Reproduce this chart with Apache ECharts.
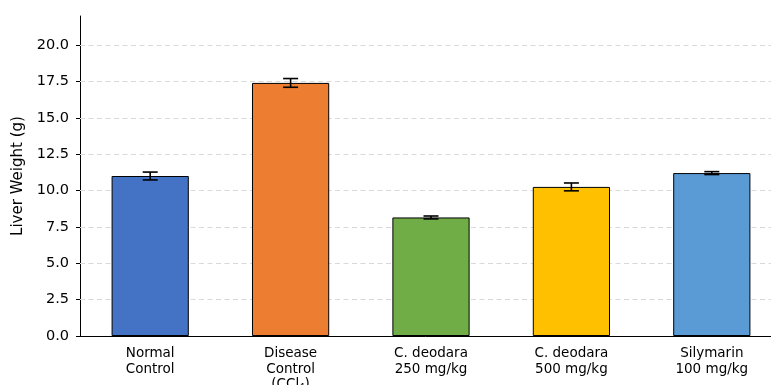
<!DOCTYPE html>
<html>
<head>
<meta charset="utf-8">
<script src="https://cdn.jsdelivr.net/npm/echarts@6/dist/echarts.min.js"></script>
<style>
  html, body { margin: 0; padding: 0; background: #fff; }
  #chart { width: 771px; height: 385px; }
</style>
</head>
<body>
<div id="chart"></div>
<script>
// Liver weight per treatment group (mean ± error)
const groups = ['Normal\nControl', 'Disease\nControl\n(CCl₄)', 'C. deodara\n250 mg/kg', 'C. deodara\n500 mg/kg', 'Silymarin\n100 mg/kg'];
const liverWeight = [11.0, 17.4, 8.15, 10.25, 11.2];
const liverError = [0.27, 0.3, 0.1, 0.27, 0.1];
const barColors = ['#4472C4', '#ED7D31', '#70AD47', '#FFC000', '#5B9BD5'];
const yTicks = [0, 2.5, 5, 7.5, 10, 12.5, 15, 17.5, 20];

const font = 'DejaVu Sans, sans-serif';
const chart = echarts.init(document.getElementById('chart'), null, { renderer: 'canvas' });

chart.setOption({
  animation: false,
  backgroundColor: '#fff',
  grid: { left: 80, top: 16, bottom: 49, right: -11, containLabel: false, outerBoundsMode: 'none' },
  xAxis: {
    type: 'category',
    data: groups,
    axisLine: { lineStyle: { color: '#000', width: 1 } },
    axisTick: { alignWithLabel: true, length: 4, lineStyle: { color: '#000' } },
    axisLabel: { color: '#000', fontFamily: font, fontSize: 13.5, lineHeight: 15.5, margin: 10, interval: 0 }
  },
  yAxis: {
    type: 'value',
    min: 0,
    max: 22,
    interval: 2.5,
    name: 'Liver Weight (g)',
    nameLocation: 'middle',
    nameGap: 54,
    nameTextStyle: { color: '#000', fontFamily: font, fontSize: 15 },
    axisLine: { show: true, lineStyle: { color: '#000', width: 1 } },
    axisTick: { show: true, length: 4, lineStyle: { color: '#000' }, customValues: yTicks },
    axisLabel: {
      color: '#000', fontFamily: font, fontSize: 14.5, margin: 11,
      customValues: yTicks,
      formatter: v => v.toFixed(1)
    },
    splitLine: { show: false }
  },
  series: [
    {
      // dashed horizontal grid, kept behind the bars
      type: 'line',
      data: [],
      z: 1,
      silent: true,
      markLine: {
        z: 1,
        silent: true,
        symbol: ['none', 'none'],
        label: { show: false },
        lineStyle: { color: '#d9d9d9', type: [5, 3.5], width: 1 },
        data: yTicks.filter(t => t > 0).map(t => ({ yAxis: t }))
      }
    },
    {
      type: 'bar',
      barWidth: '55%',
      data: liverWeight.map((v, i) => ({
        value: v,
        itemStyle: { color: barColors[i], borderColor: '#000', borderWidth: 1 }
      })),
      z: 6
    },
    {
      type: 'custom',
      z: 8,
      data: liverWeight.map((v, i) => [i, v, liverError[i]]),
      renderItem: function (params, api) {
        const i = api.value(0), v = api.value(1), e = api.value(2);
        const hi = api.coord([i, v + e]);
        const lo = api.coord([i, v - e]);
        const cap = 7.5;
        const style = { stroke: '#000', lineWidth: 1.6 };
        return {
          type: 'group',
          children: [
            { type: 'line', shape: { x1: hi[0], y1: hi[1], x2: lo[0], y2: lo[1] }, style },
            { type: 'line', shape: { x1: hi[0] - cap, y1: hi[1], x2: hi[0] + cap, y2: hi[1] }, style },
            { type: 'line', shape: { x1: lo[0] - cap, y1: lo[1], x2: lo[0] + cap, y2: lo[1] }, style }
          ]
        };
      }
    }
  ]
});
</script>
</body>
</html>
